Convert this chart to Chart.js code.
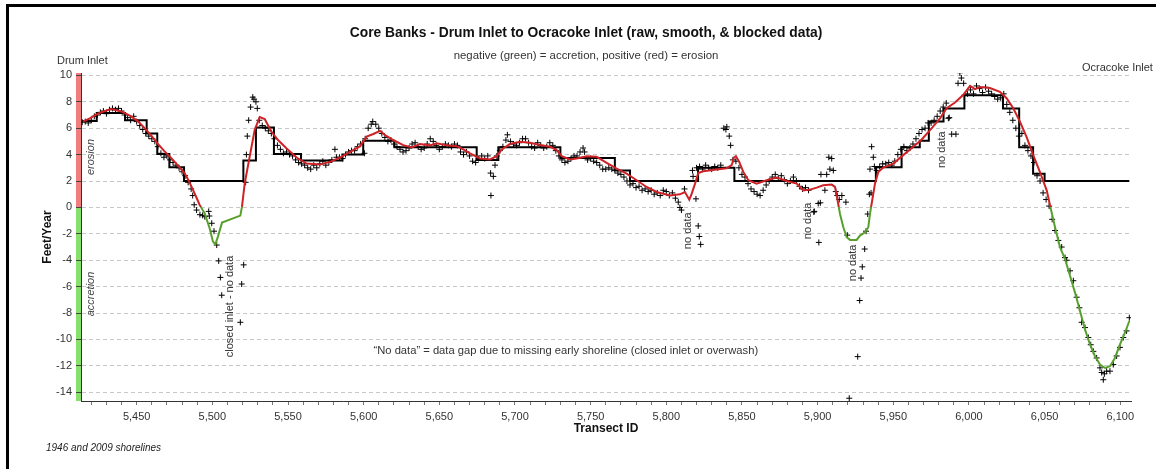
<!DOCTYPE html>
<html><head><meta charset="utf-8">
<script src="https://cdn.jsdelivr.net/npm/chart.js@4.4.0/dist/chart.umd.min.js"></script>
<style>html,body{margin:0;padding:0;background:#fff;overflow:hidden}canvas{display:block}</style>
</head><body>
<canvas id="c" width="1156" height="469"></canvas>
<script>
// ---------- data ----------
const rawT = [5414,5416,5418,5420,5422,5424,5426,5428,5430,5432,5434,5436,5438,5440,5442,5444,5446,5448,5450,5452,5454,5456,5458,5460,5462,5464,5466,5468,5470,5472,5474,5476,5478,5480,5482,5484,5486,5487,5488,5489.6,5491.8,5493.6,5495,5497.6,5498,5499.6,5501.1,5502.9,5504.2,5505.3,5506.2,5518.5,5519.4,5520.7,5522,5522.5,5523.1,5524,5525.3,5526.7,5527.5,5528.8,5529.7,5531,5533,5535,5537,5539,5541,5543,5545,5547,5549,5551,5553,5555,5557,5559,5561,5563,5565,5567,5569,5571,5573,5575,5577,5579,5581,5582,5584,5586,5588,5590,5592,5594,5596,5598,5600.5,5601,5603,5605,5606,5608,5610,5612,5614,5616,5618,5620,5622,5624,5626,5628,5630,5632,5634,5636,5638,5640,5642,5644,5646,5648,5650,5652,5654,5656,5658,5660,5662,5664,5666,5668,5670,5672,5674,5676,5678,5680,5682,5683.9,5684.1,5685.7,5686.8,5688,5690,5692,5694,5695,5697,5699,5701,5703,5705,5707,5709,5711,5713,5715,5717,5719,5721,5723,5725,5727,5729,5731,5733,5735,5737,5739,5741,5743,5745,5746,5748,5750,5752,5754,5756,5758,5760,5762,5764,5766,5768,5770,5772,5774,5776,5778,5780,5782,5784,5786,5788,5790,5792,5794,5796,5798,5800,5802,5804,5806,5807.9,5809,5810,5812,5817.3,5817.7,5819.6,5820,5821.1,5821.8,5822,5822.7,5824,5826,5828,5830,5832,5834,5836,5838,5839.4,5840,5841.6,5842.5,5844,5846,5848,5850,5852,5854,5856,5858,5860,5862,5864,5866,5868,5870,5872,5874,5876,5878,5880,5882,5884,5886,5888,5890,5892,5894,5897.5,5897.8,5900.4,5900.8,5901.8,5902.2,5904.8,5906,5907.4,5908.1,5909.3,5910.4,5912,5913,5914.3,5916,5918.7,5919.6,5920.9,5926.5,5927.8,5928.7,5929.5,5931.1,5932,5933.1,5934.2,5934.6,5935.3,5935.7,5936.8,5937.5,5939,5941,5943,5945,5947,5949,5951,5953,5955,5957,5959,5961,5963,5965,5967,5969,5971,5973,5975,5977,5979,5981,5983,5985,5986.4,5987,5988.6,5991.4,5992.8,5994,5995,5996.5,5997,5999,6001,6003,6005,6007,6009,6011,6013,6015,6017,6019,6021,6023,6025,6027,6029,6031,6033,6035,6037,6039,6041,6043,6045,6047,6049,6051,6053,6055,6056.9,6059.1,6061.3,6063.5,6064.6,6066.8,6069,6071.2,6073,6074.5,6076.7,6078.9,6080.5,6082.2,6084.4,6086.6,6087.7,6088.8,6089.5,6091,6093.2,6095.4,6097.6,6099.8,6102,6104.2,6106];
const rawV = [6.45,6.5,6.4,6.6,6.9,7.0,7.2,7.3,7.1,7.4,7.5,7.4,7.5,7.3,7.0,6.8,6.6,6.9,6.5,6.2,5.9,5.6,5.4,5.2,5.0,4.6,4.1,3.8,3.9,3.6,3.4,3.2,3.0,2.7,2.4,1.9,1.4,0.9,0.2,-0.2,-0.55,-0.6,-0.7,-0.3,-0.65,-1.2,-1.8,-2.85,-4.05,-5.3,-6.65,-8.7,-5.8,-4.35,1.9,4.0,5.4,6.6,7.6,8.35,8.2,8.0,7.5,6.6,6.2,6.0,5.8,5.6,5.2,4.7,4.4,4.1,4.2,4.0,3.9,3.6,3.4,3.3,3.2,3.0,2.9,3.2,3.0,3.3,3.5,3.2,3.4,3.6,4.4,3.8,3.8,3.7,4.0,4.2,4.3,4.3,4.6,4.8,4.1,5.2,6.0,6.3,6.5,6.3,6.0,5.6,5.3,5.0,5.1,4.8,4.6,4.4,4.2,4.3,4.5,4.8,4.9,4.6,4.4,4.5,4.8,5.2,5.0,4.7,4.4,4.6,4.8,4.7,4.6,4.8,4.7,4.2,4.0,4.2,3.9,3.5,3.4,3.7,3.9,3.7,3.9,2.6,0.9,2.35,3.2,3.9,4.3,4.6,5.1,5.5,5.0,4.8,4.7,4.9,5.2,5.2,4.9,4.6,4.5,4.9,4.7,4.5,4.6,4.9,4.7,4.3,3.9,3.6,3.4,3.5,3.7,3.9,3.9,4.2,4.5,4.2,3.6,3.7,3.5,3.4,3.2,2.9,2.9,3.0,2.9,2.8,2.6,2.5,2.3,2.0,1.7,1.8,1.5,1.6,1.3,1.4,1.2,1.3,1.0,1.1,0.9,1.3,1.2,0.9,1.1,0.7,0.4,0.0,-0.2,1.4,2.8,2.35,0.65,3.0,-1.4,-2.2,3.1,-2.8,2.9,3.2,3.0,2.9,3.1,3.0,3.2,6.0,5.9,6.1,5.4,4.7,3.6,3.5,3.0,2.5,2.3,1.8,1.4,1.2,1.0,0.9,1.3,1.7,2.0,2.3,2.5,2.2,2.4,2.1,1.8,2.0,2.3,2.0,1.6,1.4,1.5,1.3,-0.35,-0.3,0.3,-2.65,0.35,2.5,1.3,2.5,3.8,2.9,3.7,2.8,1.2,0.9,0.6,0.9,0.4,-2.1,-14.45,-11.3,-7.05,-5.35,-4.5,-3.15,-1.8,-0.5,1.0,2.9,1.1,4.6,3.8,3.1,2.8,3.1,3.3,3.3,3.4,3.2,3.5,4.0,4.4,4.6,4.3,4.5,4.8,5.2,5.6,5.9,6.0,6.4,6.4,6.6,6.9,7.3,7.6,7.9,6.75,6.8,5.55,5.55,9.4,10.2,9.8,9.4,8.5,8.6,8.9,8.6,9.2,9.0,8.7,9.1,8.8,8.6,8.4,8.2,8.3,8.6,7.8,7.2,6.6,6.0,5.4,5.6,4.7,4.3,3.9,3.4,2.4,2.0,1.1,0.6,0.1,-0.9,-1.75,-2.5,-3.0,-3.8,-4.0,-4.8,-5.55,-6.8,-7.6,-8.7,-9.1,-9.85,-10.4,-10.9,-11.4,-12.15,-12.5,-13.05,-12.6,-12.4,-12.4,-11.9,-11.25,-10.6,-9.85,-9.35,-8.35];

const smoothT = [5414.5,5419,5424.4,5429,5433.2,5439.8,5446.4,5451,5455.3,5459.5,5463.6,5468,5472.9,5477,5481.7,5484.5,5487.2,5489.5,5491.6,5494.9,5498.2,5500.4,5502,5503.7,5506.4,5518.5,5519.6,5521.4,5524.7,5528,5531.3,5534.6,5539,5543.4,5549.1,5555.7,5562.3,5571.1,5577.7,5584.4,5591,5597.6,5602,5606.4,5610.8,5614.1,5620.7,5626.2,5631.7,5637.2,5643.8,5648.3,5654.9,5661.5,5665.8,5670.3,5676.9,5683.5,5687.9,5691.2,5696.7,5703.3,5709.9,5716.5,5723.1,5727.6,5730.9,5736.3,5740.8,5747.4,5754,5760.6,5767.2,5773.8,5780.4,5787,5793.6,5802.4,5809,5812.3,5815.2,5816.8,5819,5821.1,5824.4,5833.3,5839.9,5843.2,5844.7,5846,5848.2,5850.9,5854.2,5859.7,5866.3,5872.9,5879.6,5886.2,5890.5,5895,5899.4,5903.7,5909.3,5911.5,5913,5914.8,5917,5919.2,5921.4,5925.8,5928,5931.3,5933.5,5934.6,5935.7,5937.9,5940.1,5943.4,5950,5956.6,5963.2,5968.8,5974.3,5980.9,5985.3,5990.8,5996.3,6000.7,6004,6007.3,6013.9,6020.5,6024.9,6029.3,6033.7,6038.2,6042.5,6047,6051.4,6053.6,6056.9,6060.2,6063.5,6066.8,6070.1,6073.4,6076.7,6080,6083.3,6086.6,6089.9,6093.2,6096.5,6099.8,6103.1,6106];
const smoothV = [6.5,6.75,7.1,7.3,7.45,7.27,6.89,6.5,6.0,5.45,4.87,4.3,3.73,3.2,2.59,2.0,1.33,0.75,0.19,-0.44,-1.58,-2.59,-2.8,-2.21,-1.15,-0.62,0.06,1.83,3.86,5.88,6.85,6.7,5.75,5.1,4.47,3.78,3.32,3.25,3.45,3.78,4.21,4.64,5.36,5.56,5.8,5.48,5.03,4.72,4.54,4.8,4.7,4.85,4.7,4.64,4.39,4.09,3.71,3.63,3.88,4.39,4.8,4.97,4.9,4.72,4.6,4.34,3.88,3.63,3.71,3.88,3.83,3.38,2.94,2.56,2.06,1.55,1.17,0.91,0.99,1.17,0.58,1.04,1.8,2.61,2.74,2.87,2.97,3.2,3.78,3.88,3.45,2.69,2.06,1.8,2.06,2.26,2.0,1.8,1.29,1.35,1.5,1.68,1.73,1.55,0.66,-0.5,-1.5,-2.26,-2.46,-2.46,-2.13,-1.88,-1.5,-0.48,0.28,1.8,2.69,3.02,3.32,3.96,4.59,5.15,5.86,6.75,7.51,7.94,8.53,9.21,8.96,9.11,9.04,8.75,8.27,7.51,6.5,5.3,3.96,2.65,1.29,0.15,-1.5,-3.02,-3.91,-5.18,-6.45,-7.84,-9.24,-10.38,-11.27,-11.9,-12.16,-12.03,-11.4,-10.38,-9.49,-8.6];

const blockEdges = [5414,5423.6,5442.3,5456.6,5463.6,5471.6,5481.3,5520.5,5528.8,5540.7,5558.6,5586,5599.7,5620.3,5674.7,5689,5730,5766,5776,5821,5845,5938.5,5955.5,5967.5,5973.5,5983.2,5997,6022.5,6033.2,6042.4,6050,6106];
const blockValues = [6.55,7.15,6.6,5.6,4.05,3.05,2.0,3.55,6.05,4.05,3.55,4.0,5.05,4.55,3.6,4.55,3.75,2.8,2.0,3.0,2.0,3.05,4.55,5.05,6.5,7.5,8.5,7.5,4.55,2.55,2.0];

const yTickStep = 2;
const xTickStep = 10;
const xLabelEvery = 50;

// annotations (text, transect, value)
const noteText = ['closed inlet - no data','no data','no data','no data','no data'];
const noteT = [5511.7,5814.5,5893.4,5923.6,5982];
const noteV = [-7.5,-1.77,-1.02,-4.2,4.37];

// ---------- build ----------
const FONT = '"Liberation Sans", Arial, sans-serif';
const RED = 'rgb(206,34,38)';
const GREEN = 'rgb(88,160,44)';

const rawPts = rawT.map((t,i)=>({x:t,y:rawV[i]}));
const smoothPts = smoothT.map((t,i)=>({x:t,y:smoothV[i]}));
const blockPts = [];
blockValues.forEach((v,i)=>{ blockPts.push({x:blockEdges[i],y:v}); blockPts.push({x:blockEdges[i+1],y:v}); });

function zeroGradient(context){
  const chart = context.chart;
  const {ctx, chartArea, scales} = chart;
  if (!chartArea) return RED;
  const y0 = scales.y.getPixelForValue(0);
  const g = ctx.createLinearGradient(0, chartArea.top, 0, chartArea.bottom);
  const s = Math.min(1, Math.max(0, (y0 - chartArea.top)/(chartArea.bottom - chartArea.top)));
  g.addColorStop(0, RED); g.addColorStop(s, RED); g.addColorStop(s, GREEN); g.addColorStop(1, GREEN);
  return g;
}

const deco = {
  id: 'deco',
  beforeDraw(chart){
    const {ctx, chartArea:ca, scales} = chart;
    const y0 = scales.y.getPixelForValue(0);
    ctx.save();
    ctx.fillStyle = '#f27d7d';
    ctx.fillRect(ca.left-5, ca.top, 5, y0-ca.top);
    ctx.fillStyle = '#88e06c';
    ctx.fillRect(ca.left-5, y0, 5, ca.bottom-y0);
    ctx.restore();
  },
  afterDraw(chart){
    const {ctx, chartArea:ca, scales} = chart;
    const xs = scales.x, ys = scales.y;
    ctx.save();
    // frame
    ctx.fillStyle = '#000';
    ctx.fillRect(6,4,1150,3);
    ctx.fillRect(6,4,3,465);
    ctx.textBaseline = 'middle';
    // title
    ctx.fillStyle = '#111';
    ctx.textAlign = 'center';
    ctx.font = 'bold 13.8px ' + FONT;
    ctx.fillText('Core Banks - Drum Inlet to Ocracoke Inlet (raw, smooth, & blocked data)', 586, 33);
    ctx.font = '11.4px ' + FONT;
    ctx.fillStyle = '#333';
    ctx.fillText('negative (green) = accretion, positive (red) = erosion', 586, 56);
    // ends
    ctx.font = '11px ' + FONT;
    ctx.textAlign = 'left';
    ctx.fillText('Drum Inlet', 57, 61);
    ctx.fillText('Ocracoke Inlet', 1082, 68);
    // axis titles
    ctx.fillStyle = '#111';
    ctx.textAlign = 'center';
    ctx.font = 'bold 12px ' + FONT;
    ctx.fillText('Transect ID', (ca.left+ca.right)/2, 429);
    ctx.save();
    ctx.translate(48, (ca.top+ca.bottom)/2);
    ctx.rotate(-Math.PI/2);
    ctx.fillText('Feet/Year', 0, 0);
    ctx.restore();
    // erosion / accretion
    ctx.fillStyle = '#444';
    ctx.font = 'italic 11px ' + FONT;
    ctx.save(); ctx.translate(91, 157); ctx.rotate(-Math.PI/2); ctx.fillText('erosion', 0, 0); ctx.restore();
    ctx.save(); ctx.translate(91, 294); ctx.rotate(-Math.PI/2); ctx.fillText('accretion', 0, 0); ctx.restore();
    // footnote
    ctx.textAlign = 'left';
    ctx.font = 'italic 10px ' + FONT;
    ctx.fillStyle = '#222';
    ctx.fillText('1946 and 2009 shorelines', 46, 448);
    // notes
    ctx.fillStyle = '#333';
    ctx.font = '11px ' + FONT;
    ctx.textAlign = 'center';
    noteText.forEach((t,i)=>{
      ctx.save();
      ctx.translate(xs.getPixelForValue(noteT[i]), ys.getPixelForValue(noteV[i]));
      ctx.rotate(-Math.PI/2);
      ctx.fillText(t, 0, 0);
      ctx.restore();
    });
    ctx.font = '11.2px ' + FONT;
    ctx.fillText('\u201CNo data\u201D = data gap due to missing early shoreline (closed inlet or overwash)', xs.getPixelForValue(5733.6), ys.getPixelForValue(-10.87));
    ctx.restore();
  }
};

new Chart(document.getElementById('c'), {
  type: 'scatter',
  data: { datasets: [
    { label:'smooth', data: smoothPts, showLine:true, borderColor: zeroGradient, borderWidth:2, pointRadius:0, tension:0, order:0 },
    { label:'blocked', data: blockPts, showLine:true, borderColor:'#000', borderWidth:2, pointRadius:0, tension:0, order:1 },
    { label:'raw', data: rawPts, showLine:false, pointStyle:'cross', pointRadius:3, borderColor:'#000', backgroundColor:'#000', pointBorderWidth:1, order:2 }
  ]},
  options: {
    responsive:false, animation:false, devicePixelRatio:1,
    layout:{ padding:{ left:0, right:25, top:73, bottom:0 } },
    plugins:{ legend:{display:false}, tooltip:{enabled:false} },
    scales:{
      x:{ type:'linear', min:5413.2, max:6107.1,
          afterFit(s){ s.height = 68; },
          ticks:{ stepSize:xTickStep, includeBounds:false, autoSkip:false, maxRotation:0, padding:5, color:'#333',
                  font:{family:FONT, size:11},
                  callback:(v)=> (Math.round(v) % xLabelEvery === 0) ? Math.round(v).toLocaleString('en-US') : '' },
          grid:{ drawOnChartArea:false, drawTicks:true, tickLength:4, tickColor:'#777' },
          border:{ display:true, color:'#333', width:1 } },
      y:{ type:'linear', min:-14.66, max:10.18,
          afterFit(s){ s.width = 81; },
          ticks:{ stepSize:yTickStep, includeBounds:false, padding:4, color:'#333', font:{family:FONT, size:11} },
          grid:{ color:'#c8c8c8', lineWidth:1, tickLength:5, tickColor:'#444', drawTicks:true },
          border:{ display:true, color:'#333', width:1, dash:[4,3] } }
    }
  },
  plugins:[deco]
});
</script>
</body></html>
